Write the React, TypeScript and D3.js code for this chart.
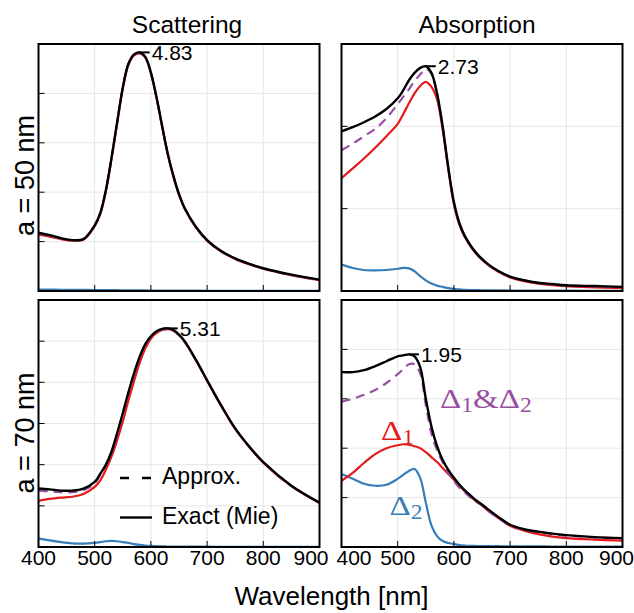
import * as d3 from 'd3';

// wavelength grid [nm]
const wavelength = [400, 420, 440, 460, 480, 500, 510, 520, 530, 540, 550, 560, 570, 580, 590, 600, 610, 620, 630, 640, 650, 660, 680, 700, 725, 750, 775, 800, 850, 900];

// a = 50 nm, scattering
const scat50Exact = [1.18, 1.13, 1.07, 1.03, 1.05, 1.33, 1.58, 2.05, 2.7, 3.42, 4.12, 4.6, 4.79, 4.83, 4.74, 4.42, 3.92, 3.34, 2.78, 2.33, 1.96, 1.68, 1.3, 1.03, 0.81, 0.66, 0.55, 0.46, 0.33, 0.23];
const scat50Approx = [1.17, 1.12, 1.06, 1.03, 1.05, 1.32, 1.57, 2.04, 2.69, 3.41, 4.11, 4.59, 4.78, 4.82, 4.73, 4.41, 3.91, 3.33, 2.77, 2.32, 1.95, 1.67, 1.29, 1.02, 0.8, 0.65, 0.54, 0.45, 0.32, 0.22];
const scat50D1 = [1.14, 1.1, 1.05, 1.02, 1.04, 1.31, 1.56, 2.03, 2.68, 3.4, 4.1, 4.58, 4.77, 4.81, 4.73, 4.41, 3.91, 3.33, 2.77, 2.32, 1.95, 1.67, 1.29, 1.02, 0.8, 0.65, 0.54, 0.45, 0.32, 0.22];
const scat50D2 = [0.03, 0.03, 0.025, 0.024, 0.022, 0.02, 0.02, 0.018, 0.017, 0.016, 0.015, 0.014, 0.013, 0.012, 0.011, 0.01, 0.009, 0.008, 0.008, 0.007, 0.007, 0.006, 0.006, 0.005, 0.005, 0.004, 0.004, 0.004, 0.003, 0.003];

// a = 50 nm, absorption
const abs50Exact = [1.94, 1.99, 2.05, 2.12, 2.21, 2.34, 2.44, 2.56, 2.65, 2.71, 2.73, 2.65, 2.4, 2.0, 1.5, 1.08, 0.82, 0.66, 0.55, 0.46, 0.39, 0.33, 0.24, 0.175, 0.13, 0.1, 0.085, 0.07, 0.06, 0.05];
const abs50Approx = [1.71, 1.79, 1.88, 1.97, 2.1, 2.27, 2.36, 2.45, 2.55, 2.63, 2.7, 2.64, 2.39, 1.99, 1.49, 1.07, 0.81, 0.65, 0.54, 0.45, 0.38, 0.32, 0.235, 0.17, 0.125, 0.095, 0.08, 0.065, 0.055, 0.045];
const abs50D1 = [1.37, 1.49, 1.61, 1.74, 1.88, 2.03, 2.15, 2.28, 2.4, 2.49, 2.54, 2.48, 2.33, 1.96, 1.48, 1.05, 0.8, 0.65, 0.54, 0.45, 0.38, 0.32, 0.23, 0.165, 0.12, 0.09, 0.072, 0.058, 0.045, 0.035];
const abs50D2 = [0.32, 0.28, 0.255, 0.25, 0.255, 0.27, 0.28, 0.275, 0.24, 0.18, 0.13, 0.09, 0.065, 0.05, 0.035, 0.025, 0.02, 0.015, 0.012, 0.01, 0.009, 0.008, 0.007, 0.006, 0.005, 0.005, 0.004, 0.004, 0.003, 0.003];

// a = 70 nm, scattering
const scat70Exact = [1.42, 1.4, 1.37, 1.37, 1.42, 1.58, 1.78, 2.0, 2.32, 2.77, 3.25, 3.76, 4.22, 4.62, 4.93, 5.12, 5.24, 5.3, 5.31, 5.27, 5.16, 5.0, 4.55, 4.05, 3.44, 2.88, 2.44, 2.06, 1.49, 1.08];
const scat70Approx = [1.37, 1.35, 1.33, 1.33, 1.38, 1.55, 1.76, 1.98, 2.3, 2.75, 3.23, 3.74, 4.2, 4.6, 4.91, 5.1, 5.22, 5.28, 5.29, 5.25, 5.14, 4.98, 4.54, 4.04, 3.43, 2.87, 2.43, 2.05, 1.48, 1.07];
const scat70D1 = [1.12, 1.17, 1.2, 1.22, 1.29, 1.46, 1.62, 1.88, 2.2, 2.6, 3.05, 3.56, 4.03, 4.47, 4.82, 5.06, 5.2, 5.27, 5.29, 5.26, 5.15, 4.99, 4.54, 4.04, 3.43, 2.87, 2.43, 2.05, 1.48, 1.07];
const scat70D2 = [0.21, 0.16, 0.12, 0.09, 0.08, 0.1, 0.12, 0.14, 0.15, 0.14, 0.12, 0.1, 0.07, 0.05, 0.035, 0.025, 0.02, 0.015, 0.012, 0.01, 0.009, 0.008, 0.008, 0.007, 0.006, 0.006, 0.005, 0.005, 0.005, 0.005];

// a = 70 nm, absorption
const abs70Exact = [1.77, 1.77, 1.79, 1.83, 1.88, 1.93, 1.94, 1.95, 1.93, 1.82, 1.5, 1.22, 1.02, 0.88, 0.78, 0.7, 0.63, 0.57, 0.52, 0.47, 0.43, 0.385, 0.3, 0.225, 0.18, 0.155, 0.135, 0.12, 0.1, 0.09];
const abs70Approx = [1.47, 1.5, 1.54, 1.59, 1.66, 1.75, 1.8, 1.85, 1.85, 1.76, 1.44, 1.15, 0.98, 0.86, 0.75, 0.67, 0.6, 0.55, 0.5, 0.46, 0.42, 0.37, 0.29, 0.22, 0.175, 0.15, 0.13, 0.115, 0.097, 0.087];
const abs70D1 = [0.67, 0.75, 0.85, 0.94, 1.0, 1.03, 1.04, 1.035, 1.02, 1.0, 0.96, 0.91, 0.86, 0.8, 0.74, 0.68, 0.62, 0.56, 0.51, 0.46, 0.42, 0.37, 0.29, 0.215, 0.165, 0.13, 0.105, 0.09, 0.075, 0.065];
const abs70D2 = [0.74, 0.69, 0.64, 0.62, 0.63, 0.69, 0.73, 0.77, 0.79, 0.7, 0.45, 0.22, 0.11, 0.06, 0.04, 0.03, 0.02, 0.015, 0.012, 0.01, 0.009, 0.008, 0.008, 0.007, 0.006, 0.006, 0.005, 0.005, 0.005, 0.005];

const xTicks = [400, 500, 600, 700, 800, 900];
const peakLabels = ['4.83', '2.73', '5.31', '1.95'];
const columnTitles = ['Scattering', 'Absorption'];
const rowLabels = ['a = 50 nm', 'a = 70 nm'];

const RED = '#e41a1c';
const BLUE = '#377eb8';
const PURPLE = '#984ea3';
const SANS = '"Liberation Sans", Arial, Helvetica, sans-serif';
const SERIF = '"Liberation Serif", "DejaVu Serif", serif';

const COLS = [[38.5, 319.5], [341.5, 622.5]];
const ROWS = [[44, 291], [300, 547]];

type PanelProps = {
  id: string;
  col: number;
  row: number;
  yMax: number;
  yTicks: number[];
  exact: number[];
  approx: number[];
  d1: number[];
  d2: number[];
  peakLabel: string;
  showXLabels: boolean;
};

function Panel({ id, col, row, yMax, yTicks, exact, approx, d1, d2, peakLabel, showXLabels }: PanelProps) {
  const [x0, x1] = COLS[col];
  const [y0, y1] = ROWS[row];
  const x = d3.scaleLinear().domain([400, 900]).range([x0, x1]);
  const y = d3.scaleLinear().domain([0, yMax]).range([y1, y0]);
  const line = d3.line<number>()
    .x((_, i) => x(wavelength[i]))
    .y(v => y(v))
    .curve(d3.curveCatmullRom.alpha(0.5));

  const pi = d3.maxIndex(exact);
  const px = x(wavelength[pi]);
  const py = y(exact[pi]);

  const labelPos = (t: number, i: number) => {
    // edge labels are pushed inward so neighbouring panels don't collide
    if (col === 0 && i === xTicks.length - 1) return { x: x(t) + 9, anchor: 'end' };
    if (col === 1 && i === 0) return { x: x(t) - 5, anchor: 'start' };
    if (col === 1 && i === xTicks.length - 1) return { x: x(t) + 11.5, anchor: 'end' };
    return { x: x(t), anchor: 'middle' };
  };

  return (
    <g>
      <clipPath id={id}>
        <rect x={x0} y={y0} width={x1 - x0} height={y1 - y0} />
      </clipPath>
      {xTicks.slice(1, -1).map(t => (
        <line key={'gx' + t} x1={x(t)} x2={x(t)} y1={y0} y2={y1} stroke="#e6e6e6" strokeWidth={1} />
      ))}
      {yTicks.map(t => (
        <line key={'gy' + t} x1={x0} x2={x1} y1={y(t)} y2={y(t)} stroke="#e6e6e6" strokeWidth={1} />
      ))}
      <g clipPath={`url(#${id})`} fill="none" strokeLinejoin="round">
        <path d={line(d2) ?? ''} stroke={BLUE} strokeWidth={2.2} />
        <path d={line(d1) ?? ''} stroke={RED} strokeWidth={2.2} />
        <path d={line(approx) ?? ''} stroke={PURPLE} strokeWidth={2.2} strokeDasharray="9,6" />
        <path d={line(exact) ?? ''} stroke="#000" strokeWidth={2.4} />
      </g>
      {xTicks.slice(1, -1).map(t => (
        <line key={'tx' + t} x1={x(t)} x2={x(t)} y1={y1} y2={y1 - 6} stroke="#000" strokeWidth={1} />
      ))}
      {yTicks.map(t => (
        <line key={'ty' + t} x1={x0} x2={x0 + 6} y1={y(t)} y2={y(t)} stroke="#000" strokeWidth={1} />
      ))}
      <rect x={x0} y={y0} width={x1 - x0} height={y1 - y0} fill="none" stroke="#000" strokeWidth={2} />
      <line x1={px} x2={px + 10} y1={py} y2={py} stroke="#000" strokeWidth={2} />
      <text x={px + 12} y={py} dy="0.35em" fontFamily={SANS} fontSize={21} fill="#000">{peakLabel}</text>
      {showXLabels && xTicks.map((t, i) => {
        const p = labelPos(t, i);
        return (
          <text key={'lx' + t} x={p.x} y={565} textAnchor={p.anchor} fontFamily={SANS} fontSize={21} fill="#000">{t}</text>
        );
      })}
    </g>
  );
}

export default function App() {
  return (
    <svg width={634} height={613} style={{ position: 'absolute', left: 0, top: 0, background: '#fff' }}>
      <text x={187} y={33} textAnchor="middle" fontFamily={SANS} fontSize={24.5}>{columnTitles[0]}</text>
      <text x={477} y={33} textAnchor="middle" fontFamily={SANS} fontSize={24.5}>{columnTitles[1]}</text>
      <text transform="translate(34,175.5) rotate(-90)" textAnchor="middle" fontFamily={SANS} fontSize={27}>{rowLabels[0]}</text>
      <text transform="translate(34,433) rotate(-90)" textAnchor="middle" fontFamily={SANS} fontSize={27}>{rowLabels[1]}</text>

      <Panel id="c00" col={0} row={0} yMax={5} yTicks={[1, 2, 3, 4]} exact={scat50Exact} approx={scat50Approx} d1={scat50D1} d2={scat50D2} peakLabel={peakLabels[0]} showXLabels={false} />
      <Panel id="c01" col={1} row={0} yMax={3} yTicks={[1, 2]} exact={abs50Exact} approx={abs50Approx} d1={abs50D1} d2={abs50D2} peakLabel={peakLabels[1]} showXLabels={false} />
      <Panel id="c10" col={0} row={1} yMax={6} yTicks={[1, 2, 3, 4, 5]} exact={scat70Exact} approx={scat70Approx} d1={scat70D1} d2={scat70D2} peakLabel={peakLabels[2]} showXLabels={true} />
      <Panel id="c11" col={1} row={1} yMax={2.5} yTicks={[0.5, 1, 1.5, 2]} exact={abs70Exact} approx={abs70Approx} d1={abs70D1} d2={abs70D2} peakLabel={peakLabels[3]} showXLabels={true} />

      {/* legend */}
      <line x1={120} x2={152} y1={478} y2={478} stroke="#000" strokeWidth={2.4} strokeDasharray="9,13" />
      <text x={162} y={484} fontFamily={SANS} fontSize={23}>Approx.</text>
      <line x1={120} x2={152} y1={517.5} y2={517.5} stroke="#000" strokeWidth={2.4} />
      <text x={162} y={524} fontFamily={SANS} fontSize={23}>Exact (Mie)</text>

      {/* series labels */}
      <text transform="translate(440,408) scale(1.18,1)" fontFamily={SERIF} fontSize={28} fill={PURPLE}>
        Δ<tspan fontSize={20} dy={4}>1</tspan><tspan dy={-4}>&amp;Δ</tspan><tspan fontSize={20} dy={4}>2</tspan>
      </text>
      <text transform="translate(381,440) scale(1.18,1)" fontFamily={SERIF} fontSize={28} fill={RED}>
        Δ<tspan fontSize={20} dy={4}>1</tspan>
      </text>
      <text transform="translate(389.5,515) scale(1.18,1)" fontFamily={SERIF} fontSize={28} fill={BLUE}>
        Δ<tspan fontSize={20} dy={4}>2</tspan>
      </text>

      <text x={331.5} y={605} textAnchor="middle" fontFamily={SANS} fontSize={26}>Wavelength [nm]</text>
    </svg>
  );
}
